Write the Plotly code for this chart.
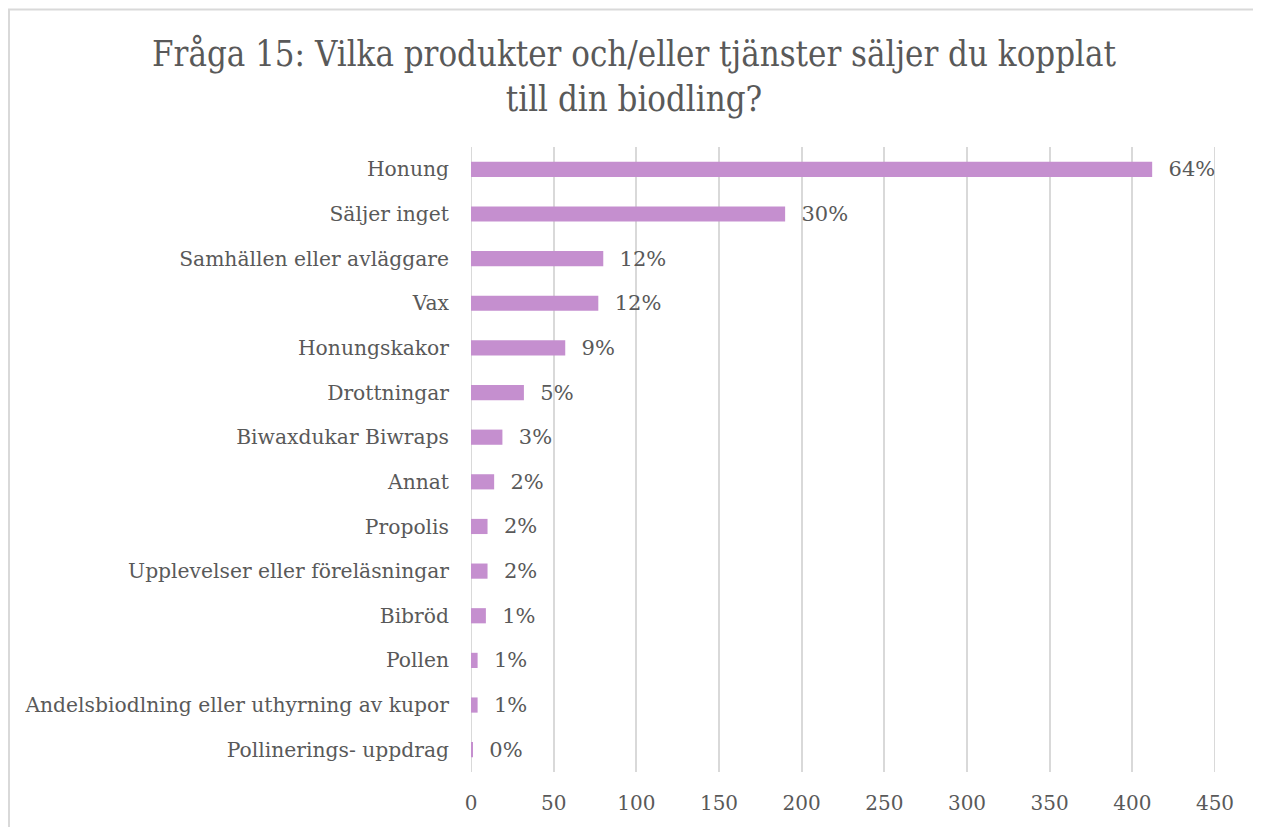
import plotly.graph_objects as go

categories = [
    "Honung",
    "Säljer inget",
    "Samhällen eller avläggare",
    "Vax",
    "Honungskakor",
    "Drottningar",
    "Biwaxdukar Biwraps",
    "Annat",
    "Propolis",
    "Upplevelser eller föreläsningar",
    "Bibröd",
    "Pollen",
    "Andelsbiodlning eller uthyrning av kupor",
    "Pollinerings- uppdrag",
]
counts = [412, 190, 80, 77, 57, 32, 19, 14, 10, 10, 9, 4, 4, 1]
percent_labels = ["64%", "30%", "12%", "12%", "9%", "5%", "3%", "2%", "2%", "2%", "1%", "1%", "1%", "0%"]
x_ticks = [0, 50, 100, 150, 200, 250, 300, 350, 400, 450]

# page body has an 8px margin, so the figure is drawn 8px smaller
W, H = 1253, 819
ml, mr, mt, mb = 463, 46, 139, 53
pw, ph = W - ml - mr, H - mt - mb

font_family = "DejaVu Serif"
txt_color = "#595959"
grid_color = "#D9D9D9"

fig = go.Figure()
fig.add_trace(go.Bar(
    y=categories,
    x=counts,
    orientation="h",
    marker=dict(color="#C58FCF", line=dict(width=0)),
    text=percent_labels,
    texttemplate="  %{text}",
    textposition="outside",
    constraintext="none",
    cliponaxis=False,
    textfont=dict(family=font_family, size=21, color=txt_color),
    hoverinfo="skip",
))

shapes = [
    dict(type="line", xref="x", yref="paper",
         x0=v, x1=v, y0=0, y1=1, layer="below",
         line=dict(color=grid_color, width=2))
    for v in (x_ticks[0], x_ticks[-1])
]
shapes.append(
    dict(type="path",
         xref="paper", yref="paper",
         path="M {x0},{y0} L {x0},{y1} L {x1},{y1} L {x1},{y0}".format(
             x0=(1 - ml) / pw,
             x1=(1249 - ml) / pw,
             y0=-(mb + 5) / ph,
             y1=(H - 1 - mb) / ph,
         ),
         line=dict(color=grid_color, width=2))
)

fig.update_layout(
    width=W, height=H,
    margin=dict(l=ml, r=mr, t=mt, b=mb),
    paper_bgcolor="white",
    plot_bgcolor="white",
    bargap=0.66,
    showlegend=False,
    title=dict(
        text="Fråga 15: Vilka produkter och/eller tjänster säljer du kopplat<br>till din biodling?",
        x=(634 - 8) / W, xanchor="center",
        y=1 - (66 - 8) / H, yanchor="middle",
        font=dict(family="DejaVu Serif Condensed, DejaVu Serif", size=34.5, color=txt_color),
    ),
    xaxis=dict(
        range=[0, 450],
        tickvals=x_ticks,
        showgrid=True,
        gridcolor=grid_color,
        gridwidth=2,
        zeroline=False,
        showline=False,
        ticks="",
        ticklabelstandoff=17,
        tickfont=dict(family=font_family, size=20, color=txt_color),
    ),
    yaxis=dict(
        categoryorder="array",
        categoryarray=categories[::-1],
        showgrid=False,
        zeroline=False,
        showline=False,
        ticks="",
        ticklabelstandoff=21,
        tickfont=dict(family=font_family, size=20.3, color=txt_color),
    ),
    shapes=shapes,
)

fig.write_html("out.html")
